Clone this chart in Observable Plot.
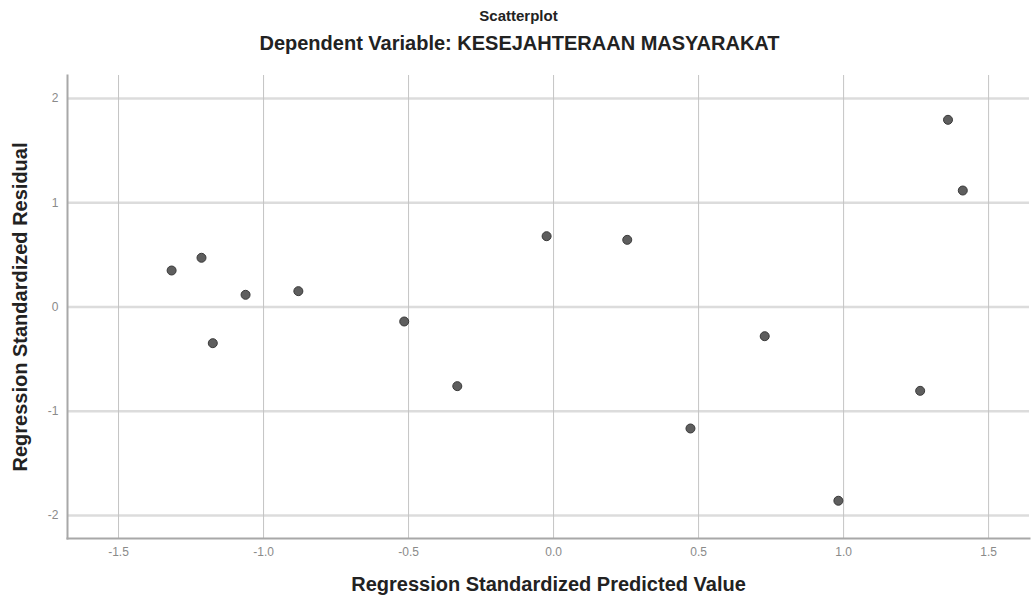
<!DOCTYPE html>
<html>
<head>
<meta charset="utf-8">
<script src="https://cdn.jsdelivr.net/npm/d3@7"></script>
<script src="https://cdn.jsdelivr.net/npm/@observablehq/plot@0.6"></script>
<style>
  html, body { margin: 0; padding: 0; background: #fff; }
  body { width: 1031px; height: 599px; overflow: hidden; font-family: "Liberation Sans", Arial, sans-serif; }
  .title { position: absolute; left: 0; width: 1031px; text-align: center; color: #222; font-weight: bold; line-height: 1; }
  #t1 { top: 8px; font-size: 15px; left: 3px; }
  #t2 { top: 33px; font-size: 20px; left: 4px; }
  #chart { position: absolute; top: 60px; left: 0; }
</style>
</head>
<body>
<div class="title" id="t1">Scatterplot</div>
<div class="title" id="t2">Dependent Variable: KESEJAHTERAAN MASYARAKAT</div>
<div id="chart"></div>
<script>
const predicted = [-1.317, -1.214, -1.062, -0.880, -1.175, -0.515, -0.332, -0.024, 0.254, 1.360, 1.411, 0.728, 0.472, 0.982, 1.264];
const residual  = [0.350, 0.472, 0.117, 0.152, -0.347, -0.139, -0.759, 0.679, 0.644, 1.795, 1.117, -0.280, -1.165, -1.858, -0.804];
const xTicks = [-1.5, -1.0, -0.5, 0.0, 0.5, 1.0, 1.5];
const yTicks = [-2, -1, 0, 1, 2];
const xLabel = "Regression Standardized Predicted Value";
const yLabel = "Regression Standardized Residual";

const points = predicted.map((x, i) => ({x, y: residual[i]}));

const chart = Plot.plot({
  width: 1031,
  height: 539,
  marginLeft: 67,
  marginRight: 2,
  marginTop: 15,
  marginBottom: 61,
  style: {fontFamily: "'Liberation Sans', Arial, sans-serif", background: "#fff"},
  x: {domain: [-1.676, 1.641], ticks: xTicks, tickFormat: d => d.toFixed(1)},
  y: {domain: [-2.22, 2.22], ticks: yTicks, tickFormat: d => String(d)},
  marks: [
    Plot.ruleY(yTicks, {stroke: "#dcdcdc", strokeWidth: 2.5}),
    Plot.ruleX(xTicks, {stroke: "#c4c4c4", strokeWidth: 1}),
    Plot.frame({anchor: "left", stroke: "#a8a8a8", strokeWidth: 2}),
    Plot.frame({anchor: "bottom", stroke: "#a8a8a8", strokeWidth: 2}),
    Plot.axisX({ticks: xTicks, tickFormat: d => d.toFixed(1), tickSize: 0, tickPadding: 9, fontSize: 12, color: "#8a8a8a", label: null}),
    Plot.axisY({ticks: yTicks, tickFormat: d => String(d), tickSize: 0, tickPadding: 9, fontSize: 12, color: "#8a8a8a", label: null}),
    Plot.dot(points, {x: "x", y: "y", r: 4.5, fill: "#5e5e5e", stroke: "#3a3a3a", strokeWidth: 1}),
    Plot.text([xLabel], {frameAnchor: "bottom", dy: 52, fontSize: 20, fontWeight: "bold", fill: "#222"}),
    Plot.text([yLabel], {frameAnchor: "left", textAnchor: "middle", dx: -47, rotate: -90, fontSize: 20, fontWeight: "bold", fill: "#222"})
  ]
});
document.getElementById("chart").appendChild(chart);
</script>
</body>
</html>
